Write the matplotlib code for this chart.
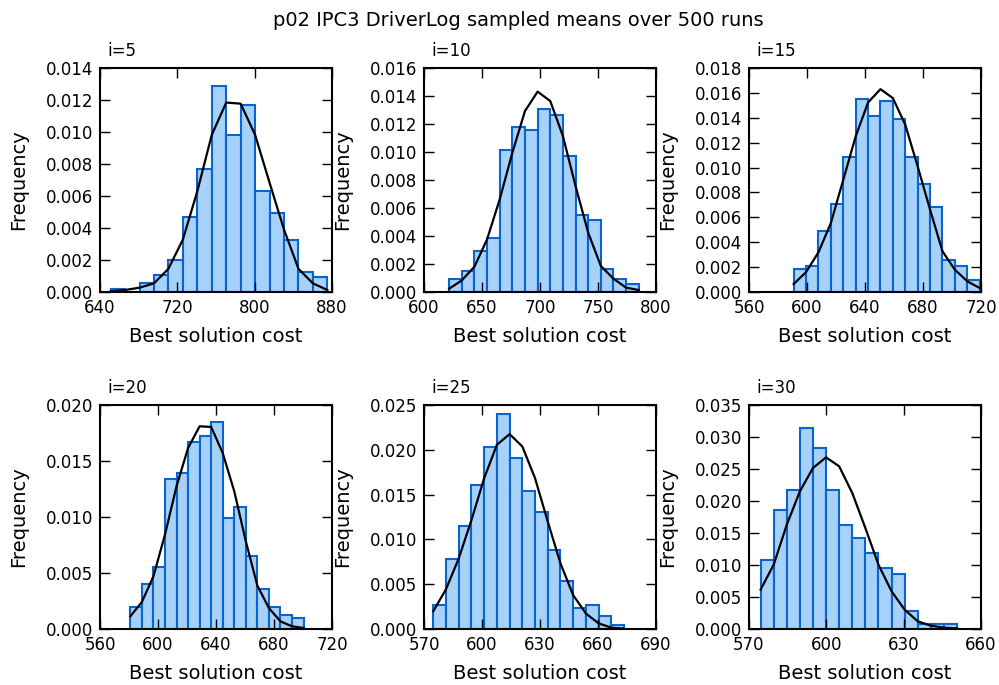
import numpy as np
import matplotlib
matplotlib.use("Agg")
import matplotlib.pyplot as plt
from matplotlib.ticker import MultipleLocator, FormatStrFormatter

title = "p02 IPC3 DriverLog sampled means over 500 runs"
panel_titles = ["i=5", "i=10", "i=15", "i=20", "i=25", "i=30"]
xlabel = "Best solution cost"
ylabel = "Frequency"

# data range (min, max) of each sample -> 15 equal bins
ranges = [(651.0, 875.2), (621.7, 785.1), (590.8, 719.1),
          (580.9, 700.4), (574.8, 673.5), (574.5, 650.7)]

# histogram densities (15 bins each)
h5 = [0.000166, 0.0, 0.00056, 0.00108, 0.00201, 0.00471, 0.00768, 0.0129,
      0.0098, 0.01167, 0.00633, 0.00496, 0.00322, 0.00125, 0.00093]
h10 = [0.000905, 0.00148, 0.00295, 0.00383, 0.01012, 0.01176, 0.01157, 0.01305,
       0.01267, 0.00974, 0.00552, 0.00514, 0.00164, 0.0009, 0.00055]
h15 = [0.00185, 0.00212, 0.00493, 0.00704, 0.01082, 0.01553, 0.01411, 0.01532,
       0.0139, 0.01082, 0.0087, 0.00683, 0.00257, 0.00209, 0.00094]
h20 = [0.00199, 0.00402, 0.00554, 0.01339, 0.0139, 0.0167, 0.01723, 0.01848,
       0.00991, 0.01086, 0.00655, 0.00354, 0.00199, 0.00125, 0.00098]
h25 = [0.00265, 0.0078, 0.01149, 0.01608, 0.0203, 0.02399, 0.01914, 0.01545,
       0.01302, 0.00877, 0.00541, 0.00235, 0.00265, 0.00146, 0.00049]
h30 = [0.01073, 0.01859, 0.02177, 0.03135, 0.02823, 0.02177, 0.01625, 0.01422,
       0.01188, 0.00953, 0.00865, 0.00276, 0.00073, 0.00073, 0.00073]

# fitted normal curve values at the 16 bin edges
c5 = [0.00004, 0.000125, 0.00027, 0.00054, 0.00145, 0.00328, 0.0063, 0.00982,
      0.01184, 0.01177, 0.00982, 0.00683, 0.0039, 0.00145, 0.00054, 0.000125]
c10 = [0.00024, 0.00083, 0.00181, 0.00376, 0.00662, 0.00995, 0.01293, 0.01431,
       0.01364, 0.01114, 0.00757, 0.00424, 0.00186, 0.00095, 0.00031, 0.00014]
c15 = [0.00064, 0.0016, 0.00319, 0.00554, 0.00902, 0.0125, 0.01523, 0.0163,
       0.01558, 0.01344, 0.01009, 0.00661, 0.00327, 0.00179, 0.00086, 0.00032]
c20 = [0.00113, 0.00241, 0.0047, 0.00842, 0.01274, 0.01616, 0.0181, 0.01804,
       0.01571, 0.01229, 0.00783, 0.00387, 0.00187, 0.00068, 0.00024, 0.00009]
c25 = [0.00198, 0.00444, 0.00787, 0.01216, 0.01683, 0.02056, 0.02175, 0.02037,
       0.01683, 0.01198, 0.00731, 0.00377, 0.00172, 0.00063, 0.00015, 0.00004]
c30 = [0.00615, 0.01005, 0.0163, 0.02151, 0.02516, 0.02682, 0.02542, 0.02125,
       0.01578, 0.01005, 0.00589, 0.00302, 0.0012, 0.00052, 0.00021, 0.0001]

hists = [h5, h10, h15, h20, h25, h30]
curves = [c5, c10, c15, c20, c25, c30]

xlims = [(640, 880), (600, 800), (560, 720), (560, 720), (570, 690), (570, 660)]
xsteps = [80, 50, 40, 40, 30, 30]
ylims = [0.014, 0.016, 0.018, 0.020, 0.025, 0.035]
ysteps = [0.002, 0.002, 0.002, 0.005, 0.005, 0.005]

W, H = 999, 685
fig = plt.figure(figsize=(W / 100, H / 100), dpi=100)

col_left = [100, 424, 749]
row_top = [68, 405]
aw, ah = 232, 224

for k in range(6):
    r, c = divmod(k, 3)
    ax = fig.add_axes([col_left[c] / W, 1 - (row_top[r] + ah) / H, aw / W, ah / H])
    lo, hi = ranges[k]
    edges = np.linspace(lo, hi, len(hists[k]) + 1)
    ax.hist(edges[:-1], bins=edges, weights=hists[k], histtype='bar',
            facecolor='#a6d1fa', edgecolor='#0a64d0', linewidth=1.5)
    ax.plot(edges, curves[k], color='black', linewidth=1.6)
    ax.set_xlim(*xlims[k])
    ax.set_ylim(0, ylims[k])
    ax.xaxis.set_major_locator(MultipleLocator(xsteps[k]))
    ax.yaxis.set_major_locator(MultipleLocator(ysteps[k]))
    ax.yaxis.set_major_formatter(FormatStrFormatter('%.3f'))
    ax.tick_params(direction='in', top=True, right=True, length=7, width=1.0,
                   labelsize=12, pad=5)
    for s in ax.spines.values():
        s.set_linewidth(1.5)
    ax.set_xlabel(xlabel, fontsize=14, labelpad=7.5)
    ax.set_ylabel(ylabel, fontsize=14, labelpad=12.5)
    ax.text(0.03, 1.035, panel_titles[k], transform=ax.transAxes,
            fontsize=12, ha='left', va='bottom')

fig.text(518 / W, 1 - 20 / H, title, fontsize=14, ha='center', va='center')

fig.savefig("out.png", dpi=100)
